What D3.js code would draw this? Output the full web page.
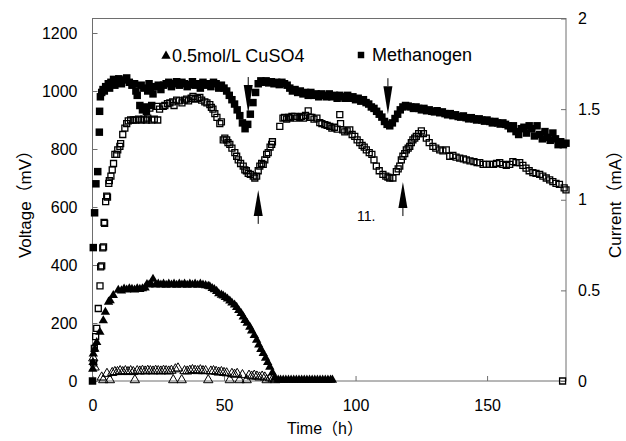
<!DOCTYPE html>
<html>
<head>
<meta charset="utf-8">
<script src="https://cdn.jsdelivr.net/npm/d3@7"></script>
<style>
  body { margin: 0; background: #fff; }
  text { font-family: "Liberation Sans", Arial, "Noto Sans CJK SC", sans-serif; fill: #000; }
</style>
</head>
<body>
<script>
// Methanogen: voltage (filled squares, mV)
const methTime = [0, 0.3, 0.8, 1.3, 2.0, 2.6, 2.7, 3.0, 3.5, 4, 4.5, 5, 6, 6.5, 7, 8, 8.5, 9, 10, 11, 12, 13, 14, 15, 16, 16.5, 17, 18, 18.5, 19, 19.5, 20, 20.5, 21, 21.5, 22, 22.5, 23, 24, 25, 26, 27, 28, 29, 30,
  31, 32, 33, 34, 35, 36, 37, 38, 39, 40, 41, 42, 43, 44, 45, 46, 47, 48, 49, 50, 51, 52, 53, 54, 55, 56, 57, 58, 59, 60,
  61, 62, 63, 64, 65, 66, 67, 68, 69, 70, 71, 72, 73, 74, 75, 76, 77, 78, 79, 80, 81, 82, 83, 84, 85, 86, 87, 88, 89, 90,
  91, 92, 93, 94, 95, 96, 97, 98, 99, 100, 101, 102, 103, 104, 105, 106, 107, 108, 109, 110, 111, 112, 113, 114, 115, 116, 117, 118, 119, 120,
  121, 122, 123, 124, 125, 126, 127, 128, 129, 130, 131, 132, 133, 134, 135, 136, 137, 138, 139, 140, 141, 142, 143, 144, 145, 146, 147, 148, 149, 150,
  151, 152, 153, 154, 155, 156, 157, 158, 159, 160, 161, 162, 163, 164, 165, 166, 167, 168, 169, 170, 171, 172, 173, 174, 175, 176, 177, 178, 179, 180];
const methVolt = [0, 460, 580, 680, 722, 858, 930, 980, 995, 1005, 1000, 1015, 1025, 1010, 1030, 1040, 1020, 1035, 1042, 1025, 1038, 1045, 1030, 1020, 1025, 1000, 985, 950, 1020, 935, 1010, 945, 930, 1000, 1025, 1010, 950, 990, 1015, 1020, 1005, 1020, 1025, 1030, 1015,
  1025, 1032, 1020, 1030, 1025, 1015, 1022, 1032, 1020, 1025, 1010, 1030, 1020, 1025, 1015, 1030, 1025, 1010, 1020, 1010, 1000, 985, 970, 955, 935, 915, 890, 870, 885, 920,
  960, 995, 1025, 1035, 1030, 1035, 1028, 1032, 1025, 1030, 1022, 1030, 1025, 1020, 1010, 1000, 1005, 995, 1000, 990, 995, 985, 995, 985, 990, 980, 990, 985, 980, 990,
  980, 985, 975, 985, 980, 975, 985, 975, 980, 970, 975, 965, 970, 960, 955, 945, 940, 930, 920, 910, 895, 885, 880, 890, 905, 920, 935, 945, 950, 948,
  945, 940, 945, 940, 935, 940, 932, 935, 930, 928, 932, 925, 928, 922, 918, 922, 915, 918, 912, 910, 914, 908, 904, 908, 904, 900, 904, 900, 896, 900,
  895, 890, 895, 890, 886, 890, 885, 880, 870, 880, 860, 850, 870, 875, 855, 880, 870, 845, 880, 850, 835, 860, 840, 830, 855, 835, 815, 825, 815, 820];

// Methanogen: current (open squares, mA)
const methCurTime = [0.4, 0.7, 1.2, 1.6, 2.2, 2.85, 3.1, 3.5, 3.9, 4.2, 4.4, 4.6, 5.0, 5.4, 5.7, 6.2, 6.4, 7.0, 7.5, 8.0, 8.5, 9.2, 9.6, 10.4, 10.7, 11.5, 12.3, 13.0, 13.6, 14.5,
  15.5, 16.5, 17.5, 18.5, 19.3, 19.5, 20.5, 21.0, 21.8, 22.5, 23.5, 24.4, 24.8, 25.5, 26.9, 27.5, 28.5, 29.4, 30.5, 31.0, 32.0, 33.0, 34.0, 35.0, 35.8, 36.5, 37.5, 38.2, 39.0, 40.0,
  40.8, 41.5, 42.7, 43.5, 44.6, 45.2, 45.8, 46.5, 47.3, 48.4, 49.0, 49.7, 50.3, 51.0, 51.5, 52.2, 53.0, 54.1, 54.8, 55.4, 56.3, 57.3, 57.9, 58.5, 59.2, 60.0, 61.1, 61.7, 62.4, 63.0,
  63.6, 64.3, 64.9, 65.5, 66.2, 66.8, 67.5, 68.1, 68.4, 71.2, 72.4, 73.0, 73.8, 74.5, 75.0, 75.8, 76.9, 77.5, 78.8, 79.5, 80.2, 81.0, 82.0, 82.8, 83.4, 84.2, 85.3, 86.4, 87.2, 88.3,
  89.2, 90.2, 91.0, 92.0, 93.0, 94.0, 94.3, 95.1, 95.9, 96.8, 97.8, 98.7, 99.7, 100.6, 101.6, 102.5, 103.3, 104.1, 105.2, 106.2, 107.0, 107.9, 109.0, 110.4, 111.5, 112.3, 113.0, 114.2, 115.5, 116.2,
  116.8, 117.4, 118.0, 118.7, 119.3, 120.0, 120.6, 121.2, 121.8, 122.5, 123.1, 124.0, 125.0, 125.8, 126.9, 128.0, 129.4, 130.5, 132.0, 133.2, 134.5, 135.8, 137.0, 138.2, 139.6, 141.0, 142.1, 143.5, 145.0, 146.2,
  147.2, 148.5, 149.7, 151.0, 152.4, 153.6, 154.8, 156.0, 157.3, 158.6, 159.8, 161.0, 162.4, 163.6, 164.8, 166.0, 167.4, 168.6, 170.0, 171.2, 172.5, 173.8, 175.0, 176.2, 177.5, 178.7, 179.3, 180.0];
const methCur = [0.10, 0.18, 0.245, 0.29, 0.40, 0.525, 0.63, 0.635, 0.735, 0.74, 0.875, 0.87, 0.99, 1.02, 1.015, 1.09, 1.105, 1.13, 1.165, 1.2, 1.25, 1.25, 1.275, 1.295, 1.31, 1.36, 1.395, 1.42, 1.435, 1.44,
  1.44, 1.44, 1.445, 1.44, 1.50, 1.445, 1.44, 1.45, 1.505, 1.44, 1.445, 1.515, 1.44, 1.50, 1.515, 1.52, 1.53, 1.535, 1.54, 1.52, 1.55, 1.545, 1.535, 1.55, 1.555, 1.545, 1.56, 1.57, 1.555, 1.56,
  1.565, 1.55, 1.54, 1.535, 1.525, 1.51, 1.50, 1.475, 1.455, 1.42, 1.43, 1.33, 1.34, 1.33, 1.315, 1.305, 1.285, 1.26, 1.24, 1.22, 1.20, 1.185, 1.165, 1.16, 1.145, 1.14, 1.13, 1.12, 1.13, 1.16,
  1.185, 1.20, 1.195, 1.22, 1.25, 1.26, 1.29, 1.305, 1.32, 1.405, 1.45, 1.455, 1.445, 1.455, 1.45, 1.46, 1.46, 1.45, 1.455, 1.46, 1.45, 1.465, 1.49, 1.455, 1.455, 1.445, 1.45, 1.425, 1.42, 1.415,
  1.41, 1.405, 1.395, 1.40, 1.39, 1.47, 1.42, 1.385, 1.375, 1.38, 1.385, 1.36, 1.35, 1.33, 1.315, 1.30, 1.29, 1.275, 1.26, 1.25, 1.22, 1.185, 1.16, 1.14, 1.13, 1.125, 1.12, 1.12, 1.155, 1.17,
  1.185, 1.22, 1.24, 1.255, 1.275, 1.285, 1.295, 1.315, 1.33, 1.34, 1.35, 1.365, 1.38, 1.365, 1.34, 1.315, 1.295, 1.285, 1.275, 1.27, 1.275, 1.24, 1.245, 1.235, 1.23, 1.225, 1.22, 1.215, 1.21, 1.205,
  1.205, 1.195, 1.195, 1.195, 1.195, 1.20, 1.205, 1.195, 1.19, 1.195, 1.21, 1.205, 1.205, 1.19, 1.175, 1.16, 1.15, 1.145, 1.14, 1.13, 1.12, 1.11, 1.10, 1.09, 1.085, 0, 1.065, 1.055];

// 0.5mol/L CuSO4: voltage (filled triangles, mV)
const cuTime = [0.1, 0.2, 0.3, 0.9, 1.6, 2.8, 4.1, 4.9, 6.1, 6.7, 7.9, 9.8, 11, 12, 13, 14, 15, 16, 17, 18, 19, 20, 20.7, 21.5, 22.2, 23, 24, 25, 26, 27,
  28, 29, 30, 31, 32, 33, 34, 35, 36, 37, 38, 39, 40, 41, 42, 43, 44, 44.6, 45.5, 46.3, 47.2, 48, 49, 49.7, 50.5, 51.3, 52.2, 53, 54, 54.8,
  55.6, 56.5, 57.3, 58, 58.8, 59.8, 60.5, 61.5, 62.4, 63.2, 64, 64.9, 65.8, 66.6, 67.4, 68.4, 69.3, 70.6, 71.5, 72.5, 73.5, 74.5, 75.5, 76.5, 77.5, 78.5, 79.5, 80.5, 81.5, 82.5,
  83.5, 84.5, 85.5, 86.5, 87.5, 88.5, 89.5, 90.5, 91.2];
const cuVolt = [38, 61, 90, 107, 130, 165, 205, 234, 269, 274, 292, 310, 308, 314, 311, 315, 313, 311, 315, 313, 315, 318, 330, 328, 332, 348, 328, 331, 328, 331,
  327, 331, 328, 331, 327, 331, 328, 331, 327, 331, 328, 331, 327, 331, 328, 326, 324, 322, 316, 312, 306, 298, 293, 290, 285, 280, 273, 266, 259, 251,
  240, 230, 218, 206, 196, 183, 170, 154, 138, 121, 106, 92, 76, 61, 45, 25, 8, 0, 0, 0, 0, 0, 0, 0, 0, 0, 0, 0, 0, 0,
  0, 0, 0, 0, 0, 0, 0, 0, 0];

// 0.5mol/L CuSO4: current (open triangles, mA)
const cuCurTime = [0.3, 0.8, 3.5, 4.1, 5.5, 6.6, 7.5, 8.5, 9.5, 10.5, 11.5, 12.5, 13.5, 14.5, 15.5, 16.1, 17, 18, 19, 20, 21, 22, 23, 24, 25, 26, 27, 28, 29, 30,
  30.7, 31.5, 32.5, 33.9, 35, 36, 37, 38, 39, 40, 41, 42, 43, 44, 45, 46, 47, 48, 49, 50, 51, 52.2, 53, 54, 55, 55.9, 57, 58.6, 59.5, 60.5,
  61.5, 62.5, 63.5, 64.5, 65.5, 66.2, 67.5, 68.5, 69.5];
const cuCur = [0.12, 0.07, 0.015, 0, 0.035, 0, 0.04, 0.045, 0.045, 0.05, 0.045, 0.05, 0.045, 0.05, 0.045, 0, 0.05, 0.048, 0.052, 0.048, 0.052, 0.05, 0.048, 0.052, 0.05, 0.048, 0.052, 0.05, 0.048, 0.052,
  0, 0.06, 0.065, 0, 0.05, 0.048, 0.052, 0.056, 0.052, 0.05, 0.055, 0.05, 0.05, 0, 0.048, 0.05, 0.046, 0.042, 0.045, 0.04, 0.038, 0, 0.035, 0.03, 0.035, 0, 0.028, 0, 0.025, 0.02,
  0.025, 0.02, 0.015, 0.02, 0.015, 0, 0.01, 0.005, 0];

const timeTicks = [0, 50, 100, 150];
const voltTicks = [0, 200, 400, 600, 800, 1000, 1200];
const curTicks = [0, 0.5, 1, 1.5, 2];

// arrows marking the CuSO4 additions
const arrowTime = [59.2, 63, 112.3, 118];
const arrowVolt = [924, 659, 920, 686];
const arrowDir = ["down", "up", "down", "up"];

const W = 626, H = 441;
const svg = d3.select("body").append("svg")
  .attr("width", W)
  .attr("height", H);

const x = d3.scaleLinear().domain([0, 180]).range([92.5, 566]);
const yVolt = d3.scaleLinear().domain([0, 1250]).range([381, 18.5]);
const yCur = d3.scaleLinear().domain([0, 2]).range([381, 18.5]);

const axisColor = "#6e6e6e";
const plain = d3.format("");

// axes, ticks point inward
const gx = svg.append("g").attr("transform", "translate(0,381)")
  .call(d3.axisBottom(x).tickValues(timeTicks).tickSize(-5).tickSizeOuter(0).tickPadding(19).tickFormat(plain));
const gl = svg.append("g").attr("transform", "translate(92.5,0)")
  .call(d3.axisLeft(yVolt).tickValues(voltTicks).tickSize(-5).tickSizeOuter(0).tickPadding(15).tickFormat(plain));
const gr = svg.append("g").attr("transform", "translate(566,0)")
  .call(d3.axisRight(yCur).tickValues(curTicks).tickSize(-5).tickSizeOuter(0).tickPadding(12).tickFormat(plain));

[gx, gl, gr].forEach(g => {
  g.select(".domain").remove();
  g.selectAll(".tick line").attr("stroke", axisColor);
  g.selectAll(".tick text").attr("font-size", 16).attr("font-family", null).style("fill", "#000");
});

svg.append("rect")
  .attr("x", 92.5).attr("y", 18.5)
  .attr("width", 566 - 92.5).attr("height", 381 - 18.5)
  .attr("fill", "none").attr("stroke", axisColor).attr("stroke-width", 1);

const plot = svg.append("g");

const sqOpen = d3.symbol(d3.symbolSquare, 36)();
const sqFill = d3.symbol(d3.symbolSquare, 56)();
const tri = d3.symbol(d3.symbolTriangle, 38)();

// open squares: methanogen current
plot.append("g").selectAll("path")
  .data(d3.zip(methCurTime, methCur))
  .join("path")
  .attr("d", sqOpen)
  .attr("transform", d => `translate(${x(d[0])},${yCur(d[1])})`)
  .attr("fill", "none").attr("stroke", "#000").attr("stroke-width", 1.3);

// filled squares: methanogen voltage
plot.append("g").selectAll("path")
  .data(d3.zip(methTime, methVolt))
  .join("path")
  .attr("d", sqFill)
  .attr("transform", d => `translate(${x(d[0])},${yVolt(d[1])})`)
  .attr("fill", "#000");

// open triangles: CuSO4 current
plot.append("g").selectAll("path")
  .data(d3.zip(cuCurTime, cuCur))
  .join("path")
  .attr("d", tri)
  .attr("transform", d => `translate(${x(d[0])},${yCur(d[1]) - 1})`)
  .attr("fill", "none").attr("stroke", "#000").attr("stroke-width", 1);

// filled triangles: CuSO4 voltage
plot.append("g").selectAll("path")
  .data(d3.zip(cuTime, cuVolt))
  .join("path")
  .attr("d", tri)
  .attr("transform", d => `translate(${x(d[0])},${yVolt(d[1]) - 1})`)
  .attr("fill", "#000");

// arrows
arrowTime.forEach((t, i) => {
  const ax = x(t), tip = yVolt(arrowVolt[i]);
  const s = arrowDir[i] === "down" ? -1 : 1;
  const headLen = arrowDir[i] === "down" ? 28 : 26, stemLen = 8, hw = 4.5;
  svg.append("line")
    .attr("x1", ax).attr("x2", ax)
    .attr("y1", tip + s * headLen).attr("y2", tip + s * (headLen + stemLen))
    .attr("stroke", "#000").attr("stroke-width", 1);
  svg.append("path")
    .attr("d", `M${ax},${tip}L${ax - hw},${tip + s * headLen}L${ax + hw},${tip + s * headLen}Z`)
    .attr("fill", "#000");
});

// legend
svg.append("path").attr("d", tri).attr("fill", "#000")
  .attr("transform", "translate(166,56)");
svg.append("text").attr("x", 172).attr("y", 62).attr("font-size", 18).text("0.5mol/L CuSO4");
svg.append("path").attr("d", d3.symbol(d3.symbolSquare, 42)()).attr("fill", "#000")
  .attr("transform", "translate(361,55)");
svg.append("text").attr("x", 372).attr("y", 61).attr("font-size", 18).text("Methanogen");

svg.append("text").attr("x", 357).attr("y", 221).attr("font-size", 14).text("11.");

// axis titles
svg.append("text")
  .attr("transform", "translate(31,200) rotate(-90)")
  .attr("text-anchor", "middle").attr("font-size", 17)
  .text("Voltage（mV）");
svg.append("text")
  .attr("transform", "translate(621,200) rotate(-90)")
  .attr("text-anchor", "middle").attr("font-size", 17)
  .text("Current（mA）");
svg.append("text")
  .attr("x", 325).attr("y", 434)
  .attr("text-anchor", "middle").attr("font-size", 16)
  .text("Time（h）");
</script>
</body>
</html>
